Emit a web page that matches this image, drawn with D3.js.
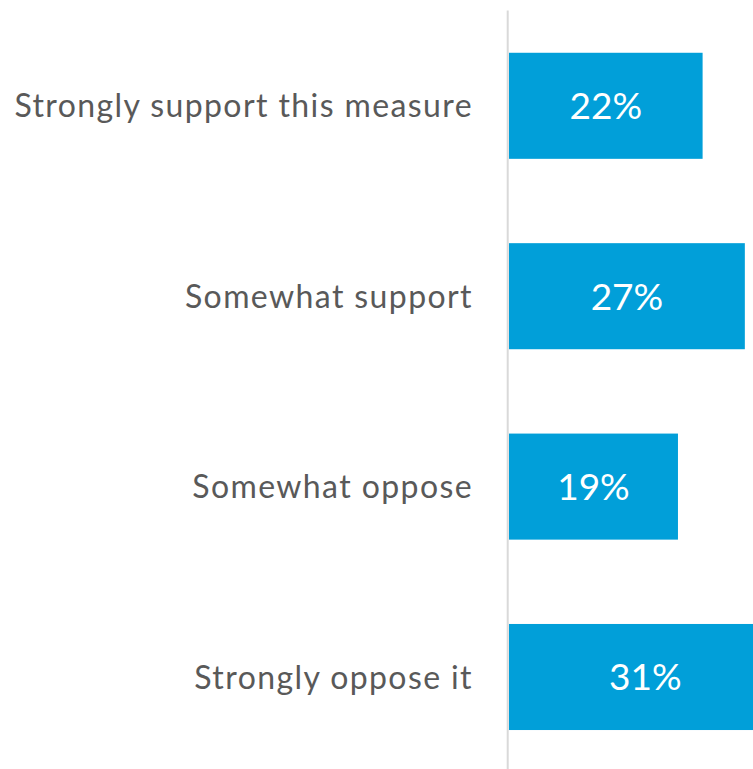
<!DOCTYPE html>
<html><head><meta charset="utf-8">
<script src="https://cdn.jsdelivr.net/npm/d3@7"></script>
<style>html,body{margin:0;padding:0;background:#fff;overflow:hidden}svg{display:block}</style>
</head><body>
<script>
const categories = ["Strongly support this measure","Somewhat support","Somewhat oppose","Strongly oppose it"];
const values = [22.0, 26.8, 19.2, 31.0];
const valueLabels = ["22%","27%","19%","31%"];

const W = 753, H = 769;
const svg = d3.select("body").append("svg").attr("width", W).attr("height", H);

const x0 = 509;
const x = d3.scaleLinear().domain([0, 100]).range([x0, x0 + 880]);
const y = d3.scaleBand().domain(categories).range([10.6, 772.2]).paddingInner(0.443).paddingOuter(0.2215);

svg.selectAll("rect.bar").data(categories).join("rect")
  .attr("class","bar")
  .attr("x", x(0))
  .attr("y", d => y(d))
  .attr("width", (d,i) => x(values[i]) - x(0))
  .attr("height", y.bandwidth())
  .attr("fill", "#019fd9");

svg.append("line")
  .attr("x1", x0 - 1.3).attr("x2", x0 - 1.3)
  .attr("y1", y.range()[0]).attr("y2", y.range()[1])
  .attr("stroke", "#d9d9d9").attr("stroke-width", 2);

svg.selectAll("text.cat").data(categories).join("text")
  .attr("class","cat")
  .attr("x", 473)
  .attr("y", d => y(d) + y.bandwidth()/2)
  .attr("dy", "0.36em")
  .attr("text-anchor", "end")
  .attr("font-family", "Lato, 'Open Sans', sans-serif")
  .attr("font-size", 32)
  .attr("letter-spacing", "1.4px")
  .attr("fill", "#595959")
  .text(d => d);

svg.selectAll("text.val").data(categories).join("text")
  .attr("class","val")
  .attr("x", (d,i) => (x(0) + x(values[i]))/2)
  .attr("y", d => y(d) + y.bandwidth()/2)
  .attr("dy", "0.36em")
  .attr("text-anchor", "middle")
  .attr("font-family", "Lato, 'Open Sans', sans-serif")
  .attr("font-size", 37)
  .attr("fill", "#ffffff")
  .text((d,i) => valueLabels[i]);
</script>
</body></html>
